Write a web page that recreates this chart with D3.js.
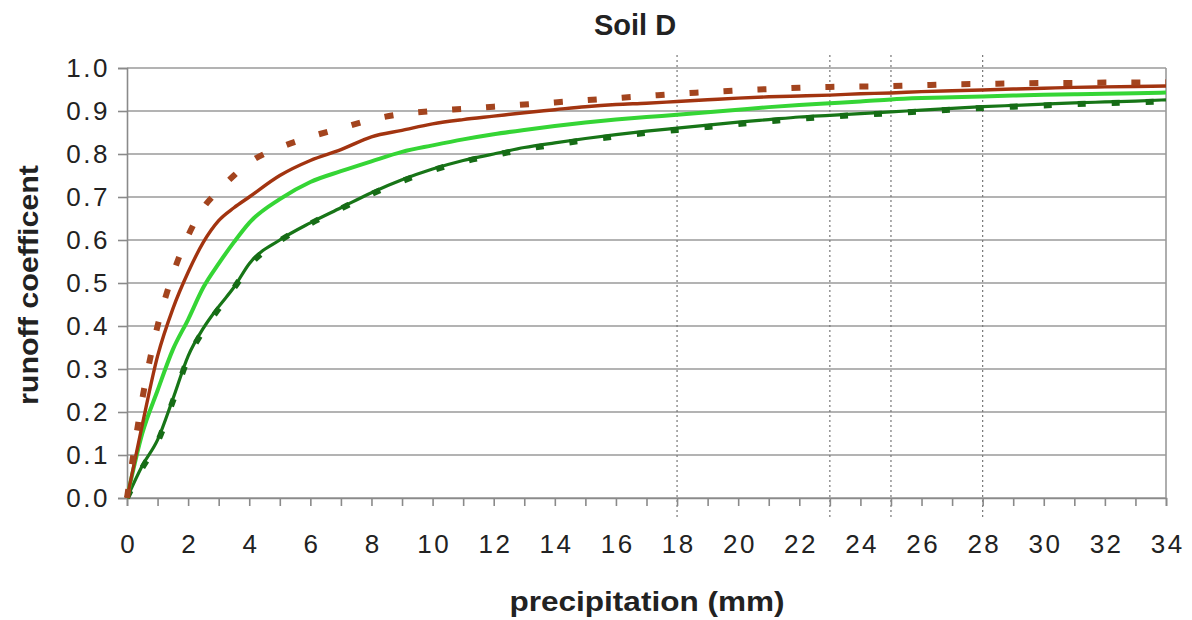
<!DOCTYPE html>
<html>
<head>
<meta charset="utf-8">
<script src="https://cdn.jsdelivr.net/npm/d3@7"></script>
<style>
  body { margin: 0; background: #fff; }
  text { font-family: "Liberation Sans", Arial, sans-serif; fill: #222; }
</style>
</head>
<body>
<div id="chart"></div>
<script>
// precipitation (mm)
var precip = [0, 0.5, 1, 1.5, 2, 2.5, 3, 3.5, 4, 5, 6, 7, 8, 9, 10, 11, 12, 13, 14, 15, 16, 17,
  18, 19, 20, 21, 22, 23, 24, 25, 26, 27, 28, 29, 30, 31, 32, 33, 34];

// runoff coefficient per curve
var brownDash = [0, 0.23, 0.40, 0.52, 0.61, 0.675, 0.715, 0.75, 0.78, 0.815, 0.84, 0.86, 0.88, 0.893,
  0.90, 0.905, 0.91, 0.915, 0.92, 0.925, 0.93, 0.935, 0.94, 0.944, 0.948, 0.951, 0.954, 0.956,
  0.957, 0.958, 0.96, 0.962, 0.963, 0.964, 0.965, 0.965, 0.966, 0.966, 0.967];
var brownSolid = [0, 0.17, 0.33, 0.44, 0.525, 0.595, 0.645, 0.675, 0.70, 0.75, 0.785, 0.81, 0.84, 0.855,
  0.87, 0.88, 0.888, 0.896, 0.903, 0.91, 0.915, 0.918, 0.922, 0.926, 0.93, 0.933, 0.935, 0.937,
  0.94, 0.942, 0.945, 0.947, 0.949, 0.951, 0.953, 0.955, 0.956, 0.957, 0.958];
var lightGreen = [0, 0.15, 0.25, 0.345, 0.415, 0.49, 0.545, 0.595, 0.64, 0.695, 0.735, 0.76, 0.783, 0.805,
  0.82, 0.834, 0.846, 0.856, 0.865, 0.873, 0.88, 0.886, 0.891, 0.897, 0.903, 0.909, 0.914, 0.918,
  0.922, 0.927, 0.93, 0.932, 0.934, 0.936, 0.938, 0.939, 0.94, 0.941, 0.943];
var darkGreen = [0, 0.075, 0.135, 0.23, 0.33, 0.395, 0.445, 0.49, 0.545, 0.60, 0.64, 0.675, 0.71, 0.74,
  0.765, 0.785, 0.80, 0.815, 0.826, 0.836, 0.845, 0.853, 0.86, 0.867, 0.874, 0.88, 0.886, 0.89,
  0.894, 0.898, 0.902, 0.906, 0.91, 0.913, 0.916, 0.919, 0.921, 0.923, 0.926];
var darkGreenDash = [0, 0.07, 0.13, 0.225, 0.325, 0.39, 0.44, 0.488, 0.54, 0.598, 0.638, 0.673, 0.707, 0.737,
  0.762, 0.782, 0.797, 0.811, 0.822, 0.832, 0.841, 0.849, 0.856, 0.863, 0.87, 0.876, 0.882, 0.887,
  0.891, 0.895, 0.899, 0.903, 0.907, 0.91, 0.913, 0.916, 0.918, 0.92, 0.923];

var markLines = [18, 23, 25, 28];
var yTicks = [0, 0.1, 0.2, 0.3, 0.4, 0.5, 0.6, 0.7, 0.8, 0.9, 1.0];
var xTicks = d3.range(0, 35, 1);

var W = 1192, H = 620;
var x = d3.scaleLinear().domain([0, 34]).range([127, 1166]);
var y = d3.scaleLinear().domain([0, 1]).range([498, 68]);

var svg = d3.select("#chart").append("svg")
  .attr("width", W).attr("height", H);

// horizontal grid
svg.append("g").selectAll("line")
  .data(yTicks).enter().append("line")
  .attr("x1", x(0)).attr("x2", x(34))
  .attr("y1", function(d) { return y(d); })
  .attr("y2", function(d) { return y(d); })
  .attr("stroke", "#9a9a9a").attr("stroke-width", 1.6);

// right border
svg.append("line")
  .attr("x1", x(34)).attr("x2", x(34)).attr("y1", y(1)).attr("y2", y(0))
  .attr("stroke", "#9a9a9a").attr("stroke-width", 1.6);

// dotted vertical markers
svg.append("g").selectAll("line")
  .data(markLines).enter().append("line")
  .attr("x1", function(d) { return x(d); })
  .attr("x2", function(d) { return x(d); })
  .attr("y1", 55).attr("y2", 517)
  .attr("stroke", "#777").attr("stroke-width", 1.2)
  .attr("stroke-dasharray", "2,3");

// axes
var xAxis = svg.append("g")
  .attr("transform", "translate(0," + y(0) + ")")
  .call(d3.axisBottom(x).tickValues(xTicks).tickSize(8).tickPadding(29)
    .tickFormat(function(d) { return d % 2 === 0 ? d : ""; }));
var yAxis = svg.append("g")
  .attr("transform", "translate(" + x(0) + ",0)")
  .call(d3.axisLeft(y).tickValues(yTicks).tickSize(9).tickPadding(8)
    .tickFormat(d3.format(".1f")));

[xAxis, yAxis].forEach(function(a) {
  a.select(".domain").attr("stroke", "#8a8a8a").attr("stroke-width", 1.6);
  a.selectAll(".tick line").attr("stroke", "#8a8a8a").attr("stroke-width", 1.6);
  a.selectAll(".tick text").attr("font-size", 26).attr("fill", "#222")
    .attr("font-family", "Liberation Sans, Arial, sans-serif")
    .attr("letter-spacing", 2.5);
});
xAxis.selectAll(".tick text").attr("dy", "0.71em").attr("dx", 1.2);

// curves
var line = d3.line()
  .x(function(d) { return x(d[0]); })
  .y(function(d) { return y(d[1]); })
  .curve(d3.curveMonotoneX);

function pairs(vals) { return precip.map(function(p, i) { return [p, vals[i]]; }); }

var curves = [
  { vals: darkGreen, color: "#177517", width: 3.2, dash: null },
  { vals: darkGreenDash, color: "#166c16", width: 6, dash: "8,26" },
  { vals: lightGreen, color: "#35d535", width: 4, dash: null },
  { vals: brownSolid, color: "#a23410", width: 3.4, dash: null },
  { vals: brownDash, color: "#a3441e", width: 6, dash: "9,25" }
];

svg.append("g").selectAll("path")
  .data(curves).enter().append("path")
  .attr("d", function(c) { return line(pairs(c.vals)); })
  .attr("fill", "none")
  .attr("stroke", function(c) { return c.color; })
  .attr("stroke-width", function(c) { return c.width; })
  .attr("stroke-dasharray", function(c) { return c.dash; });

// titles
svg.append("text")
  .attr("x", 635).attr("y", 35)
  .attr("text-anchor", "middle")
  .attr("font-size", 29).attr("font-weight", "bold")
  .text("Soil D");

svg.append("text")
  .attr("x", 647).attr("y", 611)
  .attr("text-anchor", "middle")
  .attr("font-size", 27).attr("font-weight", "bold")
  .attr("textLength", 275).attr("lengthAdjust", "spacingAndGlyphs")
  .text("precipitation (mm)");

svg.append("text")
  .attr("transform", "translate(38,285) rotate(-90)")
  .attr("text-anchor", "middle")
  .attr("font-size", 27).attr("font-weight", "bold")
  .attr("textLength", 240).attr("lengthAdjust", "spacingAndGlyphs")
  .text("runoff coefficent");
</script>
</body>
</html>
